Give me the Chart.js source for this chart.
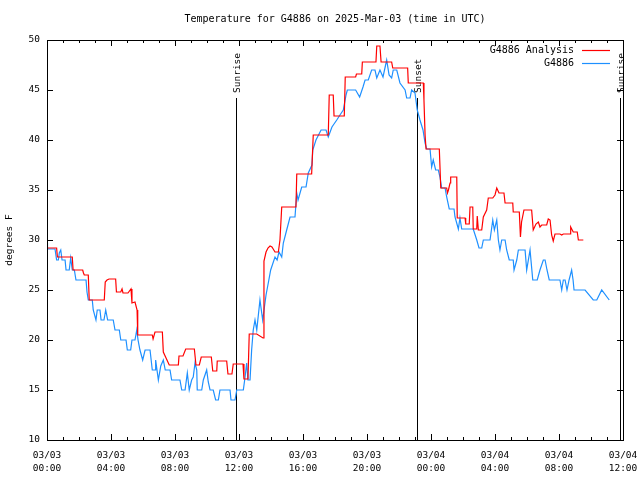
<!DOCTYPE html>
<html><head><meta charset="utf-8">
<script src="https://cdn.jsdelivr.net/npm/chart.js@4.4.0/dist/chart.umd.min.js"></script>
<style>html,body{margin:0;padding:0;background:#fff}</style>
</head><body>
<canvas id="c" width="640" height="480"></canvas>
<script>
const chartTitle = 'Temperature for G4886 on 2025-Mar-03 (time in UTC)';
const seriesLabels = ['G4886 Analysis', 'G4886'];
const seriesColors = ['#ff0000', '#1e90ff'];
const xTickHours = [0, 4, 8, 12, 16, 20, 24, 28, 32, 36];
const xTickDates = ['03/03','03/03','03/03','03/03','03/03','03/03','03/04','03/04','03/04','03/04'];
const xTickTimes = ['00:00','04:00','08:00','12:00','16:00','20:00','00:00','04:00','08:00','12:00'];
const yTicks = [10, 15, 20, 25, 30, 35, 40, 45, 50];
const sunEventHours = [11.83, 23.14, 35.81];
const sunEventLabels = ['Sunrise', 'Sunset', 'Sunrise'];

const analysisHours = [0,0.6,0.65,1.58,1.63,2.23,2.28,2.33,2.58,2.64,3.58,3.64,3.75,3.88,4.29,4.34,4.61,4.69,4.75,5.06,5.25,5.31,5.5,5.63,5.67,6.58,6.63,6.75,7.21,7.27,7.44,7.64,8.21,8.25,8.5,8.67,9.21,9.31,9.52,9.64,10.27,10.36,10.61,10.64,11.23,11.31,11.56,11.64,12.25,12.31,12.56,12.64,13.11,13.5,13.56,13.69,13.81,13.94,14.06,14.25,14.46,14.56,14.67,15.56,15.61,16.54,16.64,17.58,17.64,17.89,17.94,18.58,18.64,19.29,19.34,19.67,19.71,20.56,20.61,20.81,20.88,21.54,21.61,22.54,22.58,23.52,23.56,23.63,23.69,24.52,24.61,24.98,25.03,25.09,25.19,25.23,25.61,25.64,26.13,26.17,26.39,26.44,26.61,26.64,26.86,26.89,26.96,27.17,27.27,27.48,27.58,27.86,28.0,28.11,28.25,28.56,28.63,29.11,29.14,29.52,29.59,29.66,29.81,30.29,30.39,30.56,30.71,30.81,30.92,31.23,31.33,31.44,31.54,31.64,31.75,32.06,32.17,32.27,32.69,32.73,32.89,33.14,33.21,33.52];
const analysisTemps = [29.2,29.2,28.3,28.3,27.0,27.0,26.7,26.5,26.5,24.0,24.0,25.8,26.0,26.1,26.1,24.8,24.8,25.1,24.7,24.7,25.1,23.7,23.8,23.0,20.5,20.5,20.1,20.8,20.8,18.8,18.2,17.5,17.5,18.4,18.4,19.1,19.1,17.5,17.5,18.3,18.3,16.9,16.9,17.9,17.9,16.6,16.6,17.6,17.6,16.1,16.1,20.6,20.6,20.2,27.9,28.8,29.2,29.4,29.3,28.8,28.8,30.0,33.3,33.3,36.6,36.6,40.5,40.5,44.5,44.5,42.4,42.4,46.3,46.3,46.6,46.6,47.8,47.8,49.4,49.4,47.8,47.8,47.2,47.2,45.7,45.7,44.0,40.5,39.1,39.1,35.2,35.2,34.7,35.0,35.7,36.3,36.3,32.2,32.2,31.6,31.6,33.3,33.3,31.1,31.1,32.4,31.0,31.0,32.3,33.0,34.2,34.2,34.5,35.2,34.7,34.7,33.7,33.7,32.8,32.8,30.3,31.8,33.0,33.0,31.0,31.6,31.8,31.3,31.5,31.5,32.1,32.0,30.5,29.9,30.6,30.6,30.5,30.6,30.6,31.3,30.8,30.8,30.0,30.0];

const stationHours = [0,0.03,0.5,0.6,0.71,0.77,0.86,0.94,1.13,1.19,1.39,1.48,1.58,1.71,1.81,2.44,2.5,2.58,2.83,2.89,3.06,3.14,3.31,3.38,3.56,3.67,3.79,4.14,4.25,4.52,4.61,4.94,5.02,5.23,5.31,5.5,5.61,5.69,5.81,5.98,6.13,6.44,6.58,6.75,6.79,6.96,7.11,7.27,7.39,7.69,7.79,8.31,8.42,8.63,8.77,8.89,9.04,9.14,9.25,9.36,9.39,9.67,9.77,9.98,10.08,10.19,10.39,10.54,10.71,10.81,11.44,11.5,11.75,11.86,12.27,12.38,12.48,12.56,12.69,12.79,12.89,13.0,13.11,13.31,13.48,13.69,13.83,13.98,14.25,14.38,14.5,14.67,14.77,14.98,15.19,15.5,15.61,15.69,15.92,16.19,16.33,16.56,16.61,16.81,17.13,17.44,17.58,17.81,18.11,18.31,18.52,18.69,18.77,19.0,19.29,19.54,19.75,19.88,20.08,20.29,20.5,20.61,20.81,21.0,21.23,21.38,21.54,21.64,21.86,22.06,22.38,22.48,22.69,22.79,23.0,23.14,23.31,23.5,23.63,23.73,23.94,24.04,24.14,24.29,24.46,24.56,24.67,24.88,24.98,25.14,25.44,25.5,25.71,25.81,25.92,26.64,26.86,27.0,27.17,27.27,27.69,27.86,27.96,28.11,28.21,28.31,28.42,28.63,28.73,28.89,29.14,29.19,29.36,29.46,29.88,29.98,30.19,30.36,30.64,30.81,31.02,31.13,31.25,31.39,32.06,32.17,32.27,32.38,32.5,32.63,32.79,32.88,32.94,33.63,34.14,34.36,34.67,35.14];
const stationTemps = [29.7,29.1,29.1,28.0,28.0,28.7,29.0,28.0,28.0,27.0,27.0,28.2,27.0,27.0,26.0,26.0,24.8,24.0,24.0,23.0,22.0,23.0,23.0,22.0,22.0,23.0,22.0,22.0,21.0,21.0,20.0,20.0,19.0,19.0,20.0,20.0,21.0,20.0,19.0,18.0,19.0,19.0,17.0,17.0,18.0,16.0,17.4,18.0,17.0,17.0,16.0,16.0,15.0,15.0,16.7,15.0,16.0,16.3,17.7,17.0,15.0,15.0,16.0,17.0,15.8,15.0,15.0,14.0,14.0,15.0,15.0,14.0,14.0,15.0,15.0,16.3,17.7,16.0,16.0,19.0,21.0,22.0,21.0,24.0,22.0,24.5,25.7,27.0,28.3,28.0,28.8,28.3,29.7,31.0,32.3,32.3,34.7,34.0,35.3,35.3,36.7,37.5,39.0,40.0,41.0,41.0,40.3,41.3,42.0,42.5,43.0,44.5,45.0,45.0,45.0,44.3,45.3,46.0,46.0,47.0,47.0,46.2,47.0,46.3,48.0,46.5,46.2,47.0,47.0,45.7,45.0,44.2,44.2,45.0,44.7,43.0,42.0,41.0,39.7,39.1,39.1,37.3,38.0,37.0,37.0,36.3,35.2,35.2,34.3,33.1,33.1,32.3,31.1,32.2,31.1,31.1,30.0,29.2,29.2,30.0,30.0,32.0,31.0,32.0,30.0,29.0,30.0,30.0,29.0,28.0,28.0,27.0,28.0,29.0,29.0,27.0,29.0,26.0,26.0,27.0,28.0,28.0,27.0,26.0,26.0,25.0,26.0,26.0,25.0,26.0,27.0,26.0,25.0,25.0,24.0,24.0,25.0,24.0];

const MONO = '"DejaVu Sans Mono", "Liberation Mono", monospace';

const gnuplotDecor = {
  id: 'gnuplotDecor',
  beforeDatasetsDraw(chart) {
    const {ctx, chartArea: a, scales: {x, y}} = chart;
    ctx.save();
    ctx.strokeStyle = '#000';
    ctx.lineWidth = 1;
    ctx.fillStyle = '#000';
    ctx.font = '9.5px ' + MONO;
    sunEventHours.forEach((h, i) => {
      const px = Math.round(x.getPixelForValue(h)) + 0.5;
      const top = y.getPixelForValue(44.2);
      ctx.beginPath();
      ctx.moveTo(px, a.bottom);
      ctx.lineTo(px, top);
      ctx.stroke();
      ctx.save();
      ctx.translate(px + 1.5, top - 5);
      ctx.rotate(-Math.PI / 2);
      ctx.textAlign = 'left';
      ctx.textBaseline = 'middle';
      ctx.fillText(sunEventLabels[i], 0, 0);
      ctx.restore();
    });
    ctx.restore();
  },
  afterDraw(chart) {
    const {ctx, chartArea: a, scales: {x, y}} = chart;
    ctx.save();
    ctx.strokeStyle = '#000';
    ctx.lineWidth = 1;
    ctx.strokeRect(Math.round(a.left) + 0.5, Math.round(a.top) + 0.5,
                   Math.round(a.right - a.left), Math.round(a.bottom - a.top));
    ctx.beginPath();
    for (let h = x.min; h <= x.max; h += 1) {
      const px = Math.round(x.getPixelForValue(h)) + 0.5;
      const len = xTickHours.includes(h) ? 6 : 3;
      ctx.moveTo(px, a.bottom); ctx.lineTo(px, a.bottom - len);
      ctx.moveTo(px, a.top); ctx.lineTo(px, a.top + len);
    }
    yTicks.forEach(v => {
      const py = Math.round(y.getPixelForValue(v)) + 0.5;
      ctx.moveTo(a.left, py); ctx.lineTo(a.left + 6, py);
      ctx.moveTo(a.right, py); ctx.lineTo(a.right - 6, py);
    });
    ctx.stroke();
    ctx.font = '10px ' + MONO;
    ctx.fillStyle = '#000';
    ctx.textAlign = 'right';
    ctx.textBaseline = 'middle';
    chart.data.datasets.forEach((ds, i) => {
      const ly = a.top + 10 + i * 12.7;
      ctx.fillText(ds.label, a.right - 49, ly + 0.5);
      ctx.strokeStyle = ds.borderColor;
      ctx.lineWidth = 1.2;
      ctx.beginPath();
      ctx.moveTo(a.right - 41, Math.round(ly) + 0.5);
      ctx.lineTo(a.right - 13, Math.round(ly) + 0.5);
      ctx.stroke();
    });
    ctx.restore();
  }
};

new Chart(document.getElementById('c'), {
  type: 'line',
  data: {
    datasets: [
      { label: seriesLabels[0], data: analysisHours.map((h, i) => ({x: h, y: analysisTemps[i]})),
        borderColor: seriesColors[0], borderWidth: 1.2, pointRadius: 0, tension: 0, fill: false },
      { label: seriesLabels[1], data: stationHours.map((h, i) => ({x: h, y: stationTemps[i]})),
        borderColor: seriesColors[1], borderWidth: 1.2, pointRadius: 0, tension: 0, fill: false }
    ]
  },
  options: {
    responsive: false,
    animation: false,
    devicePixelRatio: 1,
    layout: { padding: { left: 0, right: 17, top: 0, bottom: 0 } },
    plugins: {
      legend: { display: false },
      tooltip: { enabled: false },
      title: { display: true, text: chartTitle, color: '#000', fullSize: false,
               font: { family: MONO, size: 10, weight: 'normal', lineHeight: 1.2 },
               padding: { top: 13, bottom: 15 } }
    },
    scales: {
      x: {
        type: 'linear', min: 0, max: 36,
        afterFit(s) { s.height = 40; s.paddingLeft = 0; s.paddingRight = 0; },
        afterBuildTicks(s) { s.ticks = xTickHours.map(v => ({value: v})); },
        grid: { display: false, drawTicks: false },
        border: { display: false },
        ticks: {
          color: '#000', maxRotation: 0, autoSkip: false, padding: 9,
          font: { family: MONO, size: 9.5, lineHeight: 1.35 },
          callback(v) { const i = xTickHours.indexOf(v); return i < 0 ? '' : [xTickDates[i], xTickTimes[i]]; }
        }
      },
      y: {
        type: 'linear', min: 10, max: 50,
        afterFit(s) { s.width = 47; s.paddingTop = 0; s.paddingBottom = 0; },
        afterBuildTicks(s) { s.ticks = yTicks.map(v => ({value: v})); },
        grid: { display: false, drawTicks: false },
        border: { display: false },
        title: { display: true, text: 'degrees F', color: '#000',
                 font: { family: MONO, size: 9.5 }, padding: { top: 4, bottom: 0 } },
        ticks: { color: '#000', padding: 7, font: { family: MONO, size: 9.5 } }
      }
    }
  },
  plugins: [gnuplotDecor]
});
</script>
</body></html>
